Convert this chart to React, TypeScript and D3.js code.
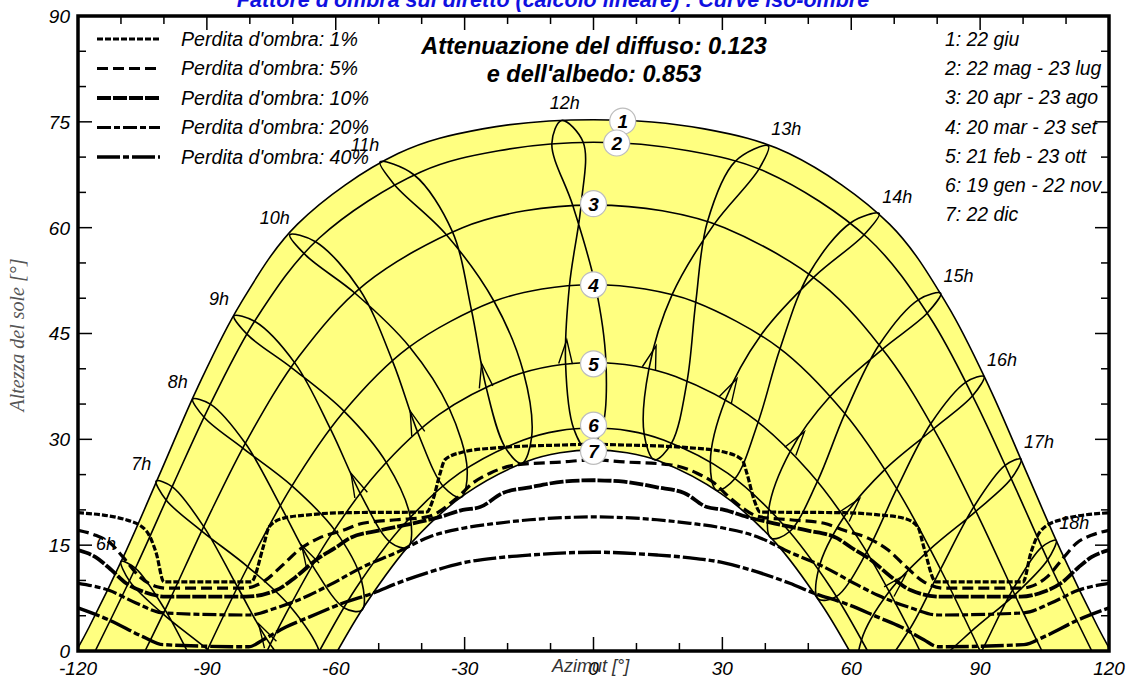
import React, { useEffect, useRef } from "react";
import * as d3 from "d3";

type Pt = [number, number];

// axis ticks
const azTicks = [-120, -90, -60, -30, 0, 30, 60, 90, 120];
const altTicks = [0, 15, 30, 45, 60, 75, 90];

const chartTitle = "Fattore d'ombra sul diretto (calcolo lineare) : Curve iso-ombre";
const noteLine1 = "Attenuazione del diffuso: 0.123";
const noteLine2 = "e dell'albedo: 0.853";
const xTitle = "Azimut [°]";
const yTitle = "Altezza del sole [°]";

// sun paths [azimut, altezza], one per date
const dateNames = [
  "1: 22 giu",
  "2: 22 mag - 23 lug",
  "3: 20 apr - 23 ago",
  "4: 20 mar - 23 set",
  "5: 21 feb - 23 ott",
  "6: 19 gen - 22 nov",
  "7: 22 dic",
];
const path1: Pt[] = [[-120.4, 0], [-117.4, 3.4], [-108.8, 14.2], [-100.6, 25.6], [-92.2, 37.3], [-82.3, 49.1], [-68.9, 60.5], [-45.5, 70.5], [-25.8, 74.0], [0, 75.3], [25.8, 74.0], [45.5, 70.5], [68.9, 60.5], [82.3, 49.1], [92.2, 37.3], [100.6, 25.6], [108.8, 14.2], [117.4, 3.4], [120.4, 0]];
const path2: Pt[] = [[-116.0, 0], [-106.2, 12.3], [-97.7, 23.8], [-88.7, 35.6], [-78.3, 47.3], [-63.9, 58.5], [-40.2, 67.9], [-22.1, 70.9], [0, 72.1], [22.1, 70.9], [40.2, 67.9], [63.9, 58.5], [78.3, 47.3], [88.7, 35.6], [97.7, 23.8], [106.2, 12.3], [116.0, 0]];
const path3: Pt[] = [[-104.4, 0], [-98.9, 6.9], [-89.9, 18.7], [-80.1, 30.5], [-68.5, 41.8], [-53.0, 52.1], [-30.5, 60.0], [-16.0, 62.4], [0, 63.2], [16.0, 62.4], [30.5, 60.0], [53.0, 52.1], [68.5, 41.8], [80.1, 30.5], [89.9, 18.7], [98.9, 6.9], [104.4, 0]];
const path4: Pt[] = [[-90.0, 0], [-80.6, 11.8], [-70.4, 23.2], [-58.3, 33.8], [-43.1, 43.0], [-23.5, 49.5], [-12.0, 51.3], [0, 51.9], [12.0, 51.3], [23.5, 49.5], [43.1, 43.0], [58.3, 33.8], [70.4, 23.2], [80.6, 11.8], [90.0, 0]];
const path5: Pt[] = [[-76.0, 0], [-72.1, 4.7], [-62.0, 15.6], [-50.2, 25.4], [-36.0, 33.5], [-19.1, 38.9], [-9.7, 40.4], [0, 40.9], [9.7, 40.4], [19.1, 38.9], [36.0, 33.5], [50.2, 25.4], [62.0, 15.6], [72.1, 4.7], [76.0, 0]];
const path6: Pt[] = [[-63.8, 0], [-55.3, 8.9], [-44.2, 17.9], [-31.2, 25.2], [-16.3, 29.9], [-8.2, 31.2], [0, 31.6], [8.2, 31.2], [16.3, 29.9], [31.2, 25.2], [44.2, 17.9], [55.3, 8.9], [63.8, 0]];
const path7: Pt[] = [[-59.6, 0], [-53.1, 6.6], [-42.3, 15.4], [-29.7, 22.3], [-15.4, 26.9], [-7.8, 28.1], [0, 28.5], [7.8, 28.1], [15.4, 26.9], [29.7, 22.3], [42.3, 15.4], [53.1, 6.6], [59.6, 0]];
const datePaths = [path1, path2, path3, path4, path5, path6, path7];
const badgeAz = [6.8, 5.4, 0, 0, 0, 0, 0];
const badgeAlt = [75.1, 72.0, 63.4, 51.9, 40.7, 32.0, 28.3];

// hour lines: sun position at dec, gen, feb, mar, apr, mag, giu, lug, ago, set, ott, nov
const hourNames = ["6h", "7h", "8h", "9h", "10h", "11h", "12h", "13h", "14h", "15h", "16h", "17h", "18h"];
const hourLoops: Pt[][] = [
  [[-71.8, -15.1], [-76.1, -15.6], [-84.3, -10.7], [-92.2, -2.7], [-99.8, 5.9], [-106.6, 11.7], [-110.0, 12.7], [-108.0, 9.9], [-100.3, 5.3], [-89.8, 0.2], [-79.9, -5.0], [-72.7, -11.0]],
  [[-63.3, -4.2], [-67.4, -4.4], [-75.2, 0.9], [-82.8, 9.0], [-90.7, 17.6], [-98.1, 23.3], [-101.8, 24.1], [-99.5, 21.4], [-91.2, 17.0], [-80.4, 11.9], [-70.6, 6.3], [-63.8, -0.1]],
  [[-53.9, 5.8], [-58.0, 6.1], [-65.3, 12.0], [-72.8, 20.5], [-81.0, 29.4], [-89.2, 35.0], [-93.3, 35.7], [-90.6, 33.1], [-81.5, 28.7], [-70.2, 23.4], [-60.2, 17.1], [-54.0, 10.0]],
  [[-43.2, 14.7], [-47.3, 15.4], [-54.1, 22.1], [-61.1, 31.3], [-69.5, 40.8], [-78.8, 46.7], [-83.7, 47.5], [-80.5, 44.8], [-70.2, 40.1], [-58.1, 34.0], [-48.1, 26.6], [-42.6, 18.8]],
  [[-30.8, 21.8], [-34.8, 23.2], [-40.8, 30.8], [-46.6, 40.8], [-54.4, 51.2], [-64.7, 58.0], [-70.7, 59.0], [-67.0, 56.1], [-55.3, 50.6], [-42.8, 43.1], [-33.6, 34.4], [-29.4, 25.7]],
  [[-16.7, 26.6], [-20.6, 28.9], [-25.0, 37.4], [-28.4, 48.3], [-32.9, 59.5], [-41.8, 67.5], [-49.7, 69.3], [-46.5, 66.2], [-34.4, 59.1], [-23.1, 49.5], [-16.3, 39.5], [-14.4, 30.3]],
  [[-1.3, 28.4], [-4.6, 31.5], [-6.5, 40.7], [-5.6, 51.8], [-2.9, 63.2], [-2.4, 72.1], [-7.4, 75.2], [-9.7, 71.9], [-4.8, 63.1], [0.4, 51.9], [2.9, 40.9], [2.0, 31.6]],
  [[14.2, 27.1], [11.8, 30.7], [12.9, 40.0], [18.3, 50.5], [28.1, 60.5], [38.5, 68.3], [40.7, 71.6], [33.0, 69.4], [26.5, 60.8], [23.8, 49.4], [21.8, 38.3], [18.2, 29.5]],
  [[28.6, 22.8], [27.2, 26.8], [30.7, 35.6], [39.0, 44.8], [51.3, 53.0], [63.0, 59.0], [66.5, 62.0], [59.9, 60.7], [50.2, 53.5], [43.4, 42.8], [38.3, 32.4], [32.9, 24.4]],
  [[41.3, 16.0], [40.8, 20.1], [45.8, 28.3], [55.1, 36.1], [67.3, 42.8], [77.7, 47.9], [80.8, 50.7], [75.7, 49.8], [66.5, 43.4], [58.5, 33.6], [52.1, 24.0], [45.6, 16.9]],
  [[52.3, 7.4], [52.4, 11.6], [58.3, 19.0], [67.8, 25.7], [79.2, 31.5], [88.3, 36.2], [90.9, 38.9], [86.7, 38.1], [78.5, 32.2], [70.6, 23.0], [63.6, 14.0], [56.5, 7.7]],
  [[61.9, -2.5], [62.4, 1.6], [68.8, 8.4], [78.3, 14.4], [89.0, 19.8], [97.2, 24.4], [99.5, 27.2], [95.8, 26.3], [88.5, 20.4], [80.8, 11.6], [73.5, 3.0], [66.1, -2.6]],
  [[70.5, -13.3], [71.4, -9.2], [78.3, -2.9], [87.8, 2.7], [98.1, 8.0], [105.7, 12.9], [107.7, 15.7], [104.3, 14.7], [97.6, 8.7], [90.2, -0.2], [82.7, -8.5], [74.8, -13.7]],
];

// iso-shadow curves
const shadowNames = [
  "Perdita d'ombra: 1%",
  "Perdita d'ombra: 5%",
  "Perdita d'ombra: 10%",
  "Perdita d'ombra: 20%",
  "Perdita d'ombra: 40%",
];
const loss1: Pt[] = [[-120, 19.6], [-108.8, 18.6], [-104.2, 17.1], [-101.8, 13.9], [-100.0, 9.8], [-79.7, 9.8], [-76.9, 14.7], [-75.5, 17.6], [-72.3, 18.8], [-66.3, 19.3], [-58.3, 19.6], [-38.8, 19.7], [-37.4, 21.4], [-35.7, 25.2], [-34.6, 27.1], [-30.4, 28.2], [-22.5, 28.8], [-7.1, 29.2], [0, 29.3], [7.1, 29.2], [22.5, 28.8], [30.4, 28.2], [34.6, 27.1], [35.7, 25.2], [37.4, 21.4], [38.8, 19.7], [58.3, 19.6], [66.3, 19.3], [72.3, 18.8], [75.5, 17.6], [76.9, 14.7], [79.7, 9.8], [100.0, 9.8], [101.8, 13.9], [104.2, 17.1], [108.8, 18.6], [120, 19.6]];
const loss5: Pt[] = [[-120, 17.1], [-115.9, 16.4], [-112.5, 15.3], [-109.5, 13.3], [-105.6, 10.5], [-101.6, 9.1], [-99.5, 8.9], [-81.6, 8.9], [-76.9, 9.8], [-72.3, 12.2], [-68.6, 14.3], [-63.9, 16.0], [-58.3, 17.1], [-53.7, 18.1], [-45.8, 18.6], [-38.8, 19.0], [-31.8, 21.7], [-28.1, 23.8], [-24.1, 25.2], [-17.8, 26.4], [-7.1, 26.8], [0, 27.1], [7.1, 26.8], [17.8, 26.4], [24.1, 25.2], [28.1, 23.8], [31.8, 21.7], [38.8, 19.0], [45.8, 18.6], [53.7, 18.1], [58.3, 17.1], [63.9, 16.0], [68.6, 14.3], [72.3, 12.2], [76.9, 9.8], [81.6, 8.9], [99.5, 8.9], [101.6, 9.1], [105.6, 10.5], [109.5, 13.3], [112.5, 15.3], [115.9, 16.4], [120, 17.1]];
const loss10: Pt[] = [[-120, 14.3], [-115.9, 13.3], [-112.8, 11.8], [-108.8, 9.6], [-104.8, 8.4], [-99.5, 7.7], [-80.9, 7.7], [-73.9, 8.6], [-69.3, 10.5], [-64.6, 12.9], [-59.9, 14.7], [-56.7, 16.0], [-49.7, 17.1], [-42.0, 18.1], [-35.7, 19.0], [-30.4, 20.0], [-26.4, 20.4], [-21.1, 22.4], [-14.8, 23.2], [-7.1, 24.0], [0, 24.2], [7.1, 24.0], [14.8, 23.2], [21.1, 22.4], [26.4, 20.4], [30.4, 20.0], [35.7, 19.0], [42.0, 18.1], [49.7, 17.1], [56.7, 16.0], [59.9, 14.7], [64.6, 12.9], [69.3, 10.5], [73.9, 8.6], [80.9, 7.7], [99.5, 7.7], [104.8, 8.4], [108.8, 9.6], [112.8, 11.8], [115.9, 13.3], [120, 14.3]];
const loss20: Pt[] = [[-120, 9.6], [-112.8, 8.6], [-106.5, 6.8], [-100.2, 5.4], [-80.2, 5.1], [-73.9, 6.1], [-66.2, 7.9], [-61.3, 9.4], [-53.7, 11.9], [-45.7, 14.0], [-38.1, 16.2], [-30.4, 17.4], [-22.5, 18.1], [-14.8, 18.6], [0, 19.0], [14.8, 18.6], [22.5, 18.1], [30.4, 17.4], [38.1, 16.2], [45.7, 14.0], [53.7, 11.9], [61.3, 9.4], [66.2, 7.9], [73.9, 6.1], [80.2, 5.1], [100.2, 5.4], [106.5, 6.8], [112.8, 8.6], [120, 9.6]];
const loss40: Pt[] = [[-120, 6.1], [-112.8, 4.4], [-104.8, 2.0], [-100.2, 0.9], [-80.2, 0.6], [-76.9, 1.6], [-71.6, 3.4], [-66.2, 4.8], [-58.3, 6.8], [-51.3, 8.2], [-45.7, 9.6], [-38.1, 11.2], [-30.4, 12.5], [-22.5, 13.2], [-14.8, 13.6], [0, 14.0], [14.8, 13.6], [22.5, 13.2], [30.4, 12.5], [38.1, 11.2], [45.7, 9.6], [51.3, 8.2], [58.3, 6.8], [66.2, 4.8], [71.6, 3.4], [76.9, 1.6], [80.2, 0.6], [100.2, 0.9], [104.8, 2.0], [112.8, 4.4], [120, 6.1]];
const lossCurves = [loss1, loss5, loss10, loss20, loss40];

const FONT = "'Liberation Sans', Arial, sans-serif";
const dashes = ["6,2", "11,5", "14,2", "14,3,6,3", "23,3,6,3"];
const dashWidth = [3.2, 3.2, 3.8, 3.2, 3.4];

function SunChart() {
  const svgRef = useRef<SVGSVGElement>(null);

  useEffect(() => {
    const w = 1133;
    const h = 682;
    const L = 78, R = 1109, T = 16, B = 651;
    const svg = d3.select(svgRef.current);
    svg.selectAll("*").remove();
    svg.attr("width", w).attr("height", h);

    const x = d3.scaleLinear().domain([-120, 120]).range([L, R]);
    const y = d3.scaleLinear().domain([0, 90]).range([B, T]);

    svg.append("rect").attr("width", w).attr("height", h).attr("fill", "#fff");

    svg.append("defs").append("clipPath").attr("id", "plotclip")
      .append("rect").attr("x", L).attr("y", T).attr("width", R - L).attr("height", B - T);

    // ticks (under the yellow band)
    const ticks = svg.append("g").attr("stroke", "#000").attr("stroke-width", 1.5);
    d3.range(-120, 121, 10).forEach((v) => {
      const len = v % 30 === 0 ? 14 : 8;
      ticks.append("line").attr("x1", x(v)).attr("x2", x(v)).attr("y1", B).attr("y2", B - len);
      ticks.append("line").attr("x1", x(v)).attr("x2", x(v)).attr("y1", T).attr("y2", T + len);
    });
    d3.range(0, 91, 5).forEach((v) => {
      const len = v % 15 === 0 ? 14 : 8;
      ticks.append("line").attr("x1", L).attr("x2", L + len).attr("y1", y(v)).attr("y2", y(v));
      ticks.append("line").attr("x1", R).attr("x2", R - len).attr("y1", y(v)).attr("y2", y(v));
    });

    const line = d3.line<Pt>().x((d) => x(d[0])).y((d) => y(d[1])).curve(d3.curveCatmullRom.alpha(0.5));
    const loopLine = d3.line<Pt>().x((d) => x(d[0])).y((d) => y(d[1])).curve(d3.curveCatmullRomClosed.alpha(0.5));
    const lossLine = d3.line<Pt>().x((d) => x(d[0])).y((d) => y(d[1])).curve(d3.curveMonotoneX);

    const plot = svg.append("g").attr("clip-path", "url(#plotclip)");

    // yellow band between summer and winter solstice
    const upper = line(path1) as string;
    const lower = line(path7.slice().reverse()) as string;
    plot.append("path").attr("d", upper + "L" + lower.slice(1) + "Z").attr("fill", "#ffff80");

    // hour lines
    plot.selectAll(".hour").data(hourLoops).join("path")
      .attr("d", (d) => loopLine(d) as string)
      .attr("fill", "none").attr("stroke", "#000").attr("stroke-width", 1.6);

    // date lines
    plot.selectAll(".date").data(datePaths).join("path")
      .attr("d", (d) => line(d) as string)
      .attr("fill", "none").attr("stroke", "#000").attr("stroke-width", 1.6);

    // direction arrows at the February point of each hour line
    hourLoops.forEach((loop) => {
      const a = loop[2], b = loop[3];
      if (a[1] <= 0) return;
      const ax = x(a[0]), ay = y(a[1]), bx = x(b[0]), by = y(b[1]);
      const len = Math.hypot(bx - ax, by - ay);
      const ux = (bx - ax) / len, uy = (by - ay) / len;
      const tx = ax + 24 * ux, ty = ay + 24 * uy;
      const ang = (16 * Math.PI) / 180;
      const barb = (s: number) => {
        const c = Math.cos(s * ang), sn = Math.sin(s * ang);
        const vx = -ux * c + uy * sn, vy = -ux * sn - uy * c;
        return [tx + 25 * vx, ty + 25 * vy];
      };
      const p1 = barb(1), p2 = barb(-1);
      plot.append("path")
        .attr("d", `M${p1[0]},${p1[1]}L${tx},${ty}L${p2[0]},${p2[1]}`)
        .attr("fill", "none").attr("stroke", "#000").attr("stroke-width", 1.4);
    });

    // iso-shadow curves
    plot.selectAll(".loss").data(lossCurves).join("path")
      .attr("d", (d) => lossLine(d) as string)
      .attr("fill", "none").attr("stroke", "#000")
      .attr("stroke-width", (d, i) => dashWidth[i])
      .attr("stroke-dasharray", (d, i) => dashes[i]);

    // circled date numbers
    const badges = svg.append("g");
    datePaths.forEach((p, i) => {
      const cx = x(badgeAz[i]), cy = y(badgeAlt[i]);
      badges.append("circle").attr("cx", cx).attr("cy", cy).attr("r", 13)
        .attr("fill", "#fff").attr("stroke", "#bdbdbd").attr("stroke-width", 1.2);
      badges.append("text").attr("x", cx).attr("y", cy).attr("dy", "0.36em")
        .attr("text-anchor", "middle").attr("font-family", FONT).attr("font-size", 19)
        .attr("font-weight", "bold").attr("font-style", "italic").text(String(i + 1));
    });

    // hour labels near the 22 June point
    hourNames.forEach((name, i) => {
      const p = hourLoops[i][6];
      const dx = i < 6 ? -15 : i === 6 ? 3 : 18;
      svg.append("text").attr("x", x(p[0]) + dx).attr("y", y(p[1]) - 11)
        .attr("text-anchor", "middle").attr("font-family", FONT).attr("font-size", 18)
        .attr("font-style", "italic").text(name);
    });

    // frame
    svg.append("rect").attr("x", L).attr("y", T).attr("width", R - L).attr("height", B - T)
      .attr("fill", "none").attr("stroke", "#000").attr("stroke-width", 3.5);

    // tick labels
    azTicks.forEach((v) => {
      svg.append("text").attr("x", x(v)).attr("y", 675).attr("text-anchor", "middle")
        .attr("font-family", FONT).attr("font-size", 19).attr("font-style", "italic").text(String(v));
    });
    altTicks.forEach((v) => {
      svg.append("text").attr("x", 70).attr("y", y(v)).attr("dy", "0.36em").attr("text-anchor", "end")
        .attr("font-family", FONT).attr("font-size", 19).attr("font-style", "italic").text(String(v));
    });

    // axis titles
    svg.append("text").attr("x", 552).attr("y", 672).attr("font-family", FONT).attr("font-size", 18)
      .attr("font-style", "italic").attr("fill", "#333").text(xTitle);
    svg.append("text").attr("transform", "translate(24,335) rotate(-90)").attr("text-anchor", "middle")
      .attr("font-family", "'Liberation Serif', 'Times New Roman', serif").attr("font-size", 20)
      .attr("font-style", "italic").attr("fill", "#555").text(yTitle);

    // titles
    svg.append("text").attr("x", 553).attr("y", 7).attr("text-anchor", "middle")
      .attr("font-family", FONT).attr("font-size", 21.5).attr("font-weight", "bold")
      .attr("font-style", "italic").attr("fill", "#1010e0").text(chartTitle);
    svg.append("text").attr("x", 594).attr("y", 54).attr("text-anchor", "middle")
      .attr("font-family", FONT).attr("font-size", 23.5).attr("font-weight", "bold")
      .attr("font-style", "italic").text(noteLine1);
    svg.append("text").attr("x", 594).attr("y", 82).attr("text-anchor", "middle")
      .attr("font-family", FONT).attr("font-size", 23.5).attr("font-weight", "bold")
      .attr("font-style", "italic").text(noteLine2);

    // legend of iso-shadow lines
    shadowNames.forEach((name, i) => {
      const cy = 39 + i * 29.5;
      svg.append("line").attr("x1", 97).attr("x2", 160).attr("y1", cy).attr("y2", cy)
        .attr("stroke", "#000").attr("stroke-width", dashWidth[i]).attr("stroke-dasharray", dashes[i]);
      svg.append("text").attr("x", 181).attr("y", cy + 6.5).attr("font-family", FONT)
        .attr("font-size", 19.6).attr("font-style", "italic").text(name);
    });

    // legend of dates
    dateNames.forEach((name, i) => {
      svg.append("text").attr("x", 945).attr("y", 46 + i * 29.2).attr("font-family", FONT)
        .attr("font-size", 19.4).attr("font-style", "italic").text(name);
    });
  }, []);

  return (
    <svg ref={svgRef} style={{ position: "absolute", left: 0, top: 0, display: "block" }}></svg>
  );
}

export default function App() {
  return <SunChart />;
}
